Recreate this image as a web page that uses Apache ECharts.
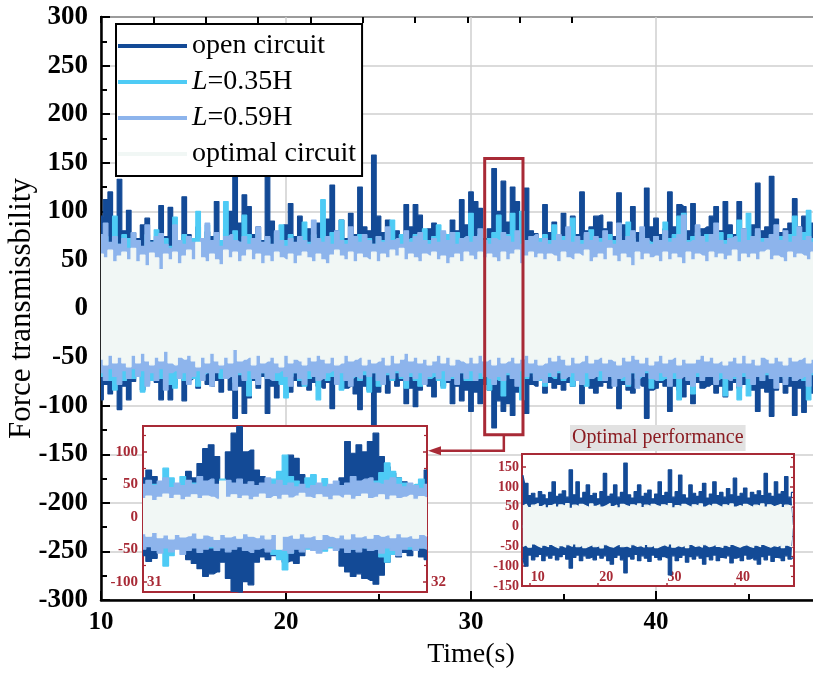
<!DOCTYPE html>
<html>
<head>
<meta charset="utf-8">
<script src="https://cdn.jsdelivr.net/npm/echarts/dist/echarts.min.js"></script>
<style>
  html, body { margin: 0; padding: 0; background: #fff; }
  #chart { width: 813px; height: 675px; }
</style>
</head>
<body>
<div id="chart"></div>
<script>
// ---- main record: envelope peaks sampled every 0.25 s from t = 10 s ----
const MAIN_T0 = 10;
const MAIN_DT = 0.25;

const OPEN_UP = [
  95,112,120,88, 133,80,101,78, 72,86,93,70, 68,106,74,104, 80,66,115,76,
  70,84,68,79, 74,110,66,82, 100,139,88,117, 105,76,84,70, 136,90,72,80,
  86,108,74,95, 70,82,78,88, 85,92,127,80, 91,72,98,76, 125,84,80,158,
  95,78,91,74, 80,70,107,84, 107,96,76,82, 88,70,78,74, 91,80,112,86,
  120,110,103,72, 82,144,100,131, 89,125,110,84, 124,80,77,70, 107,78,89,76,
  98,80,95,76, 120,80,84,95, 96,82,89,74, 119,86,78,105, 78,80,124,84,
  93,76,82,120, 84,107,105,80, 108,76,82,84, 95,105,80,110, 86,76,110,82,
  78,86,129,80, 84,136,92,78, 82,88,113,84, 95,78,88,82
];
const OPEN_LO = [
  -94,-78,-88,-72, -104,-80,-94,-75, -70,-84,-78,-72, -76,-94,-70,-94, -78,-70,-95,-74,
  -72,-82,-70,-78, -80,-74,-86,-70, -84,-113,-80,-108, -92,-74,-82,-70, -108,-80,-92,-74,
  -78,-86,-74,-80, -72,-84,-76,-80, -82,-76,-103,-78, -74,-82,-80,-88, -104,-80,-84,-122,
  -86,-78,-87,-72, -80,-74,-98,-82, -101,-84,-76,-80, -91,-74,-80,-76, -98,-80,-95,-84,
  -106,-86,-98,-78, -84,-123,-95,-106, -98,-110,-86,-80, -108,-78,-80,-72, -87,-76,-82,-78,
  -84,-76,-80,-74, -98,-78,-82,-87, -80,-76,-82,-74, -103,-78,-84,-87, -78,-80,-113,-84,
  -82,-76,-80,-106, -80,-84,-91,-78, -98,-76,-82,-80, -78,-87,-80,-91, -84,-76,-82,-78,
  -80,-84,-106,-82, -86,-111,-84,-76, -87,-80,-110,-82, -107,-80,-87,-78
];
const L035_UP = [
  68,74,64,95, 66,76,72,64, 70,62,76,68, 81,66,72,64, 94,68,76,66,
  72,100,64,86, 68,76,70,110, 74,80,68,96, 76,70,78,66, 72,64,78,86,
  70,76,66,72, 89,68,76,70, 112,72,78,66, 91,70,74,68, 76,68,72,66,
  74,70,78,91, 68,76,70,72, 76,66,82,70, 74,86,68,76, 70,78,72,74,
  98,70,76,68, 72,78,96,70, 76,98,72,100, 70,68,64,72, 76,70,86,68,
  74,68,93,66, 70,76,81,68, 72,66,76,70, 74,68,89,72, 66,76,70,68,
  74,70,89,72, 76,95,98,70, 74,78,68,76, 72,68,78,70, 76,72,91,74,
  98,70,78,72, 68,76,70,74, 72,76,95,70, 78,101,72,76
];
const L035_LO = [
  -70,-64,-74,-84, -66,-74,-62,-72, -68,-86,-66,-74, -64,-72,-70,-78, -82,-66,-74,-64,
  -72,-80,-68,-66, -74,-64,-72,-70, -66,-76,-68,-72, -90,-70,-74,-66, -72,-64,-74,-78,
  -92,-70,-66,-74, -80,-72,-68,-94, -66,-74,-70,-72, -84,-66,-72,-70, -74,-68,-86,-66,
  -80,-72,-68,-74, -66,-72,-82,-70, -74,-80,-66,-72, -70,-74,-82,-66, -72,-70,-66,-74,
  -74,-68,-72,-66, -84,-72,-74,-90, -68,-72,-66,-94, -72,-66,-70,-74, -80,-70,-72,-66,
  -74,-66,-80,-70, -72,-80,-68,-66, -74,-70,-66,-72, -70,-74,-80,-66, -72,-70,-66,-82,
  -70,-74,-72,-66, -72,-94,-68,-74, -88,-70,-72,-66, -68,-74,-72,-90, -66,-72,-94,-70,
  -90,-72,-66,-74, -68,-72,-74,-66, -72,-68,-74,-66, -74,-94,-68,-72
];
const L059_UP = [
  76,88,68,74, 66,72,62,78, 70,64,86,68, 74,77,66,62, 86,70,66,74,
  68,64,72,88, 70,78,64,74, 76,70,68,74, 66,72,84,68, 74,66,80,70,
  64,72,68,74, 70,66,91,72, 68,74,66,80, 70,66,84,74, 68,76,70,66,
  74,68,84,70, 72,66,80,68, 74,78,70,66, 72,68,80,70, 78,66,72,74,
  68,74,82,70, 66,72,70,78, 74,68,80,66, 70,74,76,68, 72,66,70,76,
  70,84,68,74, 66,78,70,74, 68,80,70,66, 88,70,74,80, 68,84,72,66,
  74,70,80,68, 72,76,96,68, 70,86,74,68, 76,88,70,66, 72,74,68,82,
  70,74,82,68, 72,76,86,70, 80,68,74,84, 70,74,68,72
];
const L059_LO = [
  -66,-74,-62,-70, -78,-64,-72,-62, -70,-64,-80,-66, -74,-62,-84,-66, -64,-72,-66,-78,
  -70,-64,-74,-66, -80,-66,-62,-72, -70,-84,-66,-74, -64,-72,-78,-66, -72,-74,-66,-64,
  -70,-80,-66,-72, -78,-64,-70,-74, -72,-66,-64,-78, -66,-74,-80,-70, -72,-64,-70,-66,
  -74,-78,-66,-72, -64,-70,-74,-66, -72,-66,-78,-70, -66,-72,-64,-74, -70,-78,-66,-72,
  -64,-74,-66,-70, -72,-78,-70,-74, -66,-72,-80,-64, -70,-66,-74,-72, -76,-66,-70,-64,
  -72,-70,-66,-74, -78,-66,-72,-70, -64,-74,-70,-80, -72,-70,-78,-66, -82,-70,-64,-72,
  -74,-66,-70,-80, -66,-72,-70,-74, -80,-66,-74,-70, -70,-78,-66,-72, -74,-70,-80,-66,
  -72,-78,-70,-74, -66,-72,-82,-70, -78,-70,-74,-72, -70,-80,-66,-74
];
const OPT_UP = [
  56,52,60,48, 54,58,50,62, 48,55,44,57, 52,40,56,50, 58,46,54,60,
  50,68,52,48, 56,50,45,60, 52,58,48,54, 60,50,56,46, 54,48,58,52,
  50,56,46,54, 58,52,48,56, 50,46,55,60, 54,50,58,48, 56,52,50,58,
  48,56,52,60, 54,62,50,56, 52,48,56,54, 58,50,54,46, 52,56,48,58,
  54,50,58,52, 56,52,48,58, 50,56,60,46, 54,58,52,56, 50,56,54,48,
  58,52,50,56, 54,60,48,52, 56,50,62,54, 48,56,52,44, 58,50,56,52,
  54,48,58,50, 56,52,46,58, 50,56,54,48, 58,52,56,50, 54,60,48,56,
  52,56,50,58, 60,50,54,52, 48,58,52,56, 54,50,58,52
];
const OPT_LO = [
  -52,-58,-48,-56, -50,-56,-60,-48, -56,-46,-54,-58, -50,-54,-44,-56, -58,-50,-52,-48,
  -54,-60,-50,-56, -46,-54,-58,-50, -56,-42,-54,-52, -50,-58,-48,-56, -54,-50,-56,-60,
  -48,-56,-52,-54, -58,-50,-54,-48, -52,-56,-50,-58, -56,-48,-54,-52, -50,-58,-52,-56,
  -54,-50,-58,-48, -56,-52,-46,-54, -50,-56,-52,-58, -54,-48,-56,-50, -58,-52,-54,-56,
  -50,-56,-48,-54, -52,-58,-50,-56, -54,-50,-56,-52, -48,-56,-52,-58, -56,-50,-54,-48,
  -52,-58,-50,-56, -54,-48,-56,-52, -50,-56,-52,-54, -58,-50,-54,-48, -52,-56,-50,-58,
  -54,-48,-56,-52, -50,-58,-52,-56, -56,-52,-48,-54, -50,-56,-54,-58, -54,-50,-56,-48,
  -56,-52,-58,-50, -52,-56,-50,-54, -58,-50,-54,-52, -50,-56,-52,-58
];

// ---- 31-32 s detail, sampled every 0.02 s ----
const ZOOM_T0 = 31;
const ZOOM_DT = 0.02;
const ZOOM_OPEN_UP = [60,72,62,40,38,42,36,44,70,60, 82,105,111,93,50,100,129,139,100,103,
  72,62,58,40,52,70,95,90,65,41, 36,30,28,34,36,60,116,98,111,100, 116,129,93,77,67,60,54,47,45,39, 72];
const ZOOM_OPEN_LO = [-60,-69,-64,-48,-42,-45,-40,-44,-66,-72, -80,-92,-88,-85,-70,-95,-115,-117,-100,-105,
  -70,-62,-66,-60,-64,-70,-68,-72,-60,-45, -38,-42,-35,-40,-38,-76,-85,-92,-88,-95, -98,-104,-90,-70,-58,-62,-55,-60,-48,-62, -66];
const ZOOM_L035_UP = [40,45,50,42,75,60,44,62,48,52, 45,50,48,44,58,52,46,50,44,48,
  42,46,40,58,70,95,62,55,48,60, 65,44,59,46,42,44,50,48,52,46, 50,55,68,83,70,60,52,48,50,58, 46];
const ZOOM_L035_LO = [-40,-44,-48,-42,-76,-60,-45,-50,-42,-46, -40,-44,-48,-42,-46,-50,-44,-40,-46,-42,
  -48,-44,-50,-58,-66,-82,-56,-48,-44,-50, -46,-42,-53,-48,-44,-46,-42,-50,-46,-48, -44,-50,-62,-70,-58,-52,-46,-50,-44,-48, -46];
const ZOOM_L059_UP = [50,56,48,55,60,45,52,48,56,50, 62,55,58,50,48,56,52,58,50,54,
  48,52,60,50,56,48,52,46,50,44, 48,52,46,50,55,48,52,62,55,58, 60,52,50,56,60,50,46,52,48,44, 50];
const ZOOM_L059_LO = [-50,-46,-52,-56,-48,-54,-50,-58,-52,-48, -55,-50,-46,-52,-48,-54,-50,-46,-52,-55,
  -50,-48,-54,-50,-46,-52,-56,-50,-54,-48, -52,-56,-50,-46,-52,-48,-55,-50,-54,-48, -52,-50,-56,-48,-52,-60,-50,-46,-52,-48, -50];
const ZOOM_OPT_UP = [28,32,25,30,35,28,33,26,30,34, 28,32,30,27,55,30,34,28,32,26,
  30,35,28,31,27,33,29,32,36,30, 28,34,30,26,32,29,33,27,31,35, 28,30,34,26,32,28,30,33,27,31, 29];
const ZOOM_OPT_LO = [-26,-30,-24,-32,-28,-34,-27,-31,-29,-25, -33,-28,-30,-35,-27,-31,-29,-33,-26,-30,
  -32,-28,-34,-27,-50,-30,-28,-33,-26,-31, -29,-35,-27,-30,-32,-28,-34,-26,-31,-29, -33,-27,-30,-28,-32,-26,-31,-29,-33,-27, -30];

// ---- optimal performance record, sampled every 0.5 s from t = 9 s ----
const PERF_T0 = 9;
const PERF_DT = 0.5;
const PERF_UP = [130,109,78,84,72,88,80,70,86,113, 76,82,90,74,143,80,113,72,86,105,
  78,84,70,88,134,76,82,105,74,86, 160,80,72,88,105,76,84,92,70,82,
  113,78,86,143,74,88,130,80,72,105, 84,76,88,109,72,82,113,78,86,74,
  96,80,122,76,84,97,72,86,80,90, 78,134,84,76,113,82,88,126,74,86];
const PERF_LO = [-80,-100,-72,-84,-76,-70,-86,-74,-80,-72, -84,-76,-70,-82,-105,-78,-72,-86,-74,-80,
  -76,-84,-72,-80,-74,-86,-95,-78,-72,-84, -117,-76,-82,-70,-86,-74,-80,-88,-72,-78,
  -84,-76,-80,-122,-74,-86,-78,-72,-90,-76, -82,-74,-80,-95,-76,-84,-72,-86,-78,-80,
  -74,-92,-80,-76,-86,-72,-82,-78,-84,-95, -76,-84,-72,-88,-78,-80,-86,-74,-82,-78];
const PERF_CORE_UP = [52,56,48,54,58,50,55,47,53,57, 49,55,51,58,46,54,50,56,52,48,
  57,51,55,49,53,58,50,54,47,56, 52,49,55,51,57,48,54,50,56,52,
  49,55,51,58,47,53,50,56,52,48, 55,51,57,49,54,50,56,52,48,55,
  51,57,49,53,50,56,52,48,54,51, 57,49,55,50,53,56,48,54,51,55];
const PERF_CORE_LO = [-50,-46,-52,-44,-49,-53,-47,-51,-45,-50, -54,-48,-52,-46,-50,-44,-51,-47,-53,-49,
  -45,-51,-48,-54,-46,-50,-52,-47,-44,-51, -49,-53,-46,-50,-48,-52,-45,-51,-47,-53,
  -49,-46,-50,-44,-52,-48,-51,-47,-53,-45, -50,-48,-52,-46,-51,-49,-44,-50,-53,-47,
  -51,-45,-49,-52,-48,-46,-50,-53,-47,-51, -45,-49,-52,-48,-50,-46,-53,-47,-51,-49];

// window of the main record that the detail panel enlarges
const WINDOW_T = [30.74, 32.81];
const WINDOW_V = [-130, 154.5];

const NAMES = ['open circuit', 'L=0.35H', 'L=0.59H', 'optimal circuit'];

// ---- styling ----
const SERIF = '"Liberation Serif", "Times New Roman", serif';
const C_OPEN = '#134a96';
const C_L035 = '#4ecbf5';
const C_L059 = '#8db4ec';
const C_OPT = '#f1f7f5';
const RED = '#a82a36';

function pairs(t0, dt, vals) {
  return vals.map((v, i) => [Math.round((t0 + dt * i) * 1000) / 1000, v]);
}

// each trace gets its own z so its area and its outline stay together in the stacking order;
// upper and lower envelopes fill a little past zero so the two halves overlap without a seam
function trace(name, color, t0, dt, vals, xi, yi, z, extra) {
  const upper = vals[0] > 0;
  return Object.assign({
    type: 'line', name: name, step: 'middle', symbol: 'none', showSymbol: false,
    xAxisIndex: xi, yAxisIndex: yi, z: z,
    data: pairs(t0, dt, vals),
    itemStyle: { color: color },
    lineStyle: { color: color, width: 1.2 },
    areaStyle: { color: color, opacity: 1, origin: upper ? -4 : 4 },
    silent: true, animation: false
  }, extra || {});
}

const redLabel = (size) => ({ fontFamily: SERIF, fontWeight: 'bold', fontSize: size, color: RED });
const L1 = { zlevel: 1 };

const series = [
  trace(NAMES[0], C_OPEN, MAIN_T0, MAIN_DT, OPEN_UP, 0, 0, 2),
  trace(NAMES[0], C_OPEN, MAIN_T0, MAIN_DT, OPEN_LO, 0, 0, 2),
  trace(NAMES[1], C_L035, MAIN_T0, MAIN_DT, L035_UP, 0, 0, 3),
  trace(NAMES[1], C_L035, MAIN_T0, MAIN_DT, L035_LO, 0, 0, 3),
  trace(NAMES[2], C_L059, MAIN_T0, MAIN_DT, L059_UP, 0, 0, 4),
  trace(NAMES[2], C_L059, MAIN_T0, MAIN_DT, L059_LO, 0, 0, 4),
  trace(NAMES[3], C_OPT, MAIN_T0, MAIN_DT, OPT_UP, 0, 0, 5),
  trace(NAMES[3], C_OPT, MAIN_T0, MAIN_DT, OPT_LO, 0, 0, 5),

  trace('detail open', C_OPEN, ZOOM_T0, ZOOM_DT, ZOOM_OPEN_UP, 2, 2, 2, L1),
  trace('detail open', C_OPEN, ZOOM_T0, ZOOM_DT, ZOOM_OPEN_LO, 2, 2, 2, L1),
  trace('detail 0.35', C_L035, ZOOM_T0, ZOOM_DT, ZOOM_L035_UP, 2, 2, 3, L1),
  trace('detail 0.35', C_L035, ZOOM_T0, ZOOM_DT, ZOOM_L035_LO, 2, 2, 3, L1),
  trace('detail 0.59', C_L059, ZOOM_T0, ZOOM_DT, ZOOM_L059_UP, 2, 2, 4, L1),
  trace('detail 0.59', C_L059, ZOOM_T0, ZOOM_DT, ZOOM_L059_LO, 2, 2, 4, L1),
  trace('detail optimal', C_OPT, ZOOM_T0, ZOOM_DT, ZOOM_OPT_UP, 2, 2, 5, L1),
  trace('detail optimal', C_OPT, ZOOM_T0, ZOOM_DT, ZOOM_OPT_LO, 2, 2, 5, L1),

  trace('performance', C_OPEN, PERF_T0, PERF_DT, PERF_UP, 3, 4, 2, L1),
  trace('performance', C_OPEN, PERF_T0, PERF_DT, PERF_LO, 3, 4, 2, L1),
  trace('performance core', C_OPT, PERF_T0, PERF_DT, PERF_CORE_UP, 3, 4, 3, L1),
  trace('performance core', C_OPT, PERF_T0, PERF_DT, PERF_CORE_LO, 3, 4, 3, L1)
];

const insetGrid = (box) => Object.assign({
  show: true, backgroundColor: '#fff', borderColor: RED, borderWidth: 2,
  zlevel: 1, outerBoundsMode: 'none', containLabel: false
}, box);

const option = {
  animation: false,
  backgroundColor: '#fff',
  title: {
    text: 'Optimal performance', left: 570, top: 425,
    padding: [3, 2, 3, 2], backgroundColor: '#e2e2e2',
    textStyle: { fontFamily: SERIF, fontSize: 20, fontWeight: 'normal', color: '#8b1c22' },
    z: 20
  },
  legend: {
    data: NAMES, orient: 'vertical', left: 116, top: 24,
    backgroundColor: '#fff', borderColor: '#000', borderWidth: 2,
    padding: [8, 6, 8, 2], itemGap: 8, itemWidth: 69, itemHeight: 4, icon: 'rect',
    selectedMode: false, z: 10,
    formatter: (n) => n.indexOf('L=') === 0 ? '{i|L}{r|' + n.slice(1) + '}' : n,
    textStyle: {
      fontFamily: SERIF, fontSize: 28, lineHeight: 28, color: '#000',
      rich: {
        i: { fontFamily: SERIF, fontSize: 28, lineHeight: 28, fontStyle: 'italic', color: '#000' },
        r: { fontFamily: SERIF, fontSize: 28, lineHeight: 28, color: '#000' }
      }
    }
  },
  grid: [
    { left: 101, top: 17, width: 740, height: 583, show: true, borderColor: '#000', borderWidth: 2,
      backgroundColor: 'transparent', outerBoundsMode: 'none', containLabel: false },
    insetGrid({ left: 143, top: 426, width: 284, height: 166 }),
    insetGrid({ left: 522, top: 454, width: 272, height: 132 }),
    { left: 101, top: 17, width: 471, height: 1, show: false, outerBoundsMode: 'none', containLabel: false }
  ],
  xAxis: [
    { gridIndex: 0, type: 'value', min: 10, max: 50, interval: 10,
      axisLine: { show: true, onZero: false, lineStyle: { color: '#000', width: 2.5 } },
      axisTick: { show: true, inside: true, length: 9, lineStyle: { color: '#000', width: 2 } },
      minorTick: { show: true, splitNumber: 2, length: 6, lineStyle: { color: '#000', width: 2 } },
      splitLine: { show: true, lineStyle: { color: '#cfcfcf', width: 1.5 } },
      axisLabel: { fontFamily: SERIF, fontWeight: 'bold', fontSize: 25, color: '#000', margin: 10 },
      name: 'Time(s)', nameLocation: 'middle', nameGap: 41, nameMoveOverlap: false,
      nameTextStyle: { fontFamily: SERIF, fontSize: 28, color: '#000' } },
    { gridIndex: 3, type: 'value', position: 'top', min: 0, max: 9, interval: 1,
      axisLine: { show: false, onZero: false },
      axisTick: { show: true, inside: true, length: 6, lineStyle: { color: '#000', width: 2 } },
      axisLabel: { show: false }, splitLine: { show: false } },
    { gridIndex: 1, type: 'value', min: 31, max: 32, interval: 1, zlevel: 1,
      axisLine: { show: false, onZero: false }, axisTick: { show: false }, splitLine: { show: false },
      axisLabel: Object.assign({ inside: true, align: 'left', margin: 2, padding: [0, 0, 0, 4] }, redLabel(15)) },
    { gridIndex: 2, type: 'value', min: 8.87, max: 48.63, splitNumber: 4, zlevel: 1,
      axisLine: { show: false, onZero: false },
      axisTick: { show: true, inside: true, length: 3, lineStyle: { color: RED, width: 1.5 } },
      splitLine: { show: false },
      axisLabel: Object.assign({ inside: true, align: 'left', margin: 2, padding: [0, 0, 0, 1],
        formatter: (v) => (Math.abs(v % 10) < 1e-6 ? String(v) : '') }, redLabel(14)) }
  ],
  yAxis: [
    { gridIndex: 0, type: 'value', min: -300, max: 300, interval: 50,
      axisLine: { show: true, onZero: false, lineStyle: { color: '#000', width: 2.5 } },
      axisTick: { show: true, inside: true, length: 9, lineStyle: { color: '#000', width: 2 } },
      minorTick: { show: true, splitNumber: 2, length: 6, lineStyle: { color: '#000', width: 2 } },
      splitLine: { show: true, lineStyle: { color: '#cfcfcf', width: 1.5 } },
      axisLabel: { fontFamily: SERIF, fontWeight: 'bold', fontSize: 27, color: '#000', margin: 13 },
      name: 'Force transmissbility', nameLocation: 'middle', nameGap: 64, nameMoveOverlap: false,
      nameTextStyle: { fontFamily: SERIF, fontSize: 31, color: '#000' } },
    { gridIndex: 3, type: 'value', show: false },
    { gridIndex: 1, type: 'value', min: -116, max: 140, splitNumber: 5, zlevel: 1,
      axisLine: { show: false, onZero: false },
      axisTick: { show: true, inside: true, length: 4, lineStyle: { color: RED, width: 1.5 } },
      minorTick: { show: true, splitNumber: 2, length: 3, lineStyle: { color: RED, width: 1.2 } },
      splitLine: { show: false },
      axisLabel: Object.assign({ margin: 5, formatter: (v) => (Math.abs(v % 50) < 1e-6 ? String(v) : '') }, redLabel(15)) },
    { gridIndex: 1, type: 'value', position: 'right', min: -116, max: 140, splitNumber: 5, zlevel: 1,
      axisLine: { show: false, onZero: false },
      axisTick: { show: true, inside: true, length: 4, lineStyle: { color: RED, width: 1.5 } },
      minorTick: { show: true, splitNumber: 2, length: 3, lineStyle: { color: RED, width: 1.2 } },
      splitLine: { show: false }, axisLabel: { show: false } },
    { gridIndex: 2, type: 'value', min: -150, max: 183, splitNumber: 6, zlevel: 1,
      axisLine: { show: false, onZero: false },
      axisTick: { show: true, inside: true, length: 4, lineStyle: { color: RED, width: 1.5 } },
      splitLine: { show: false },
      axisLabel: Object.assign({ margin: 3, formatter: (v) => (Math.abs(v % 50) < 1e-6 ? String(v) : '') }, redLabel(14)) },
    { gridIndex: 2, type: 'value', position: 'right', min: -150, max: 183, splitNumber: 6, zlevel: 1,
      axisLine: { show: false, onZero: false },
      axisTick: { show: true, inside: true, length: 4, lineStyle: { color: RED, width: 1.5 } },
      minorTick: { show: true, splitNumber: 2, length: 3, lineStyle: { color: RED, width: 1.2 } },
      splitLine: { show: false }, axisLabel: { show: false } }
  ],
  series: series
};

const chart = echarts.init(document.getElementById('chart'), null, { renderer: 'canvas' });
chart.setOption(option);

// frame around the enlarged window and the arrow leading to the detail panel
const tl = chart.convertToPixel({ xAxisIndex: 0, yAxisIndex: 0 }, [WINDOW_T[0], WINDOW_V[1]]);
const br = chart.convertToPixel({ xAxisIndex: 0, yAxisIndex: 0 }, [WINDOW_T[1], WINDOW_V[0]]);
const panelRight = chart.convertToPixel({ xAxisIndex: 2 }, ZOOM_T0 + 1);
const midX = (tl[0] + br[0]) / 2;
const arrowY = br[1] + 16;

chart.setOption({
  graphic: [
    { type: 'rect', z: 50, silent: true,
      shape: { x: tl[0], y: tl[1], width: br[0] - tl[0], height: br[1] - tl[1] },
      style: { fill: 'none', stroke: RED, lineWidth: 3 } },
    { type: 'polyline', z: 50, silent: true,
      shape: { points: [[midX, br[1]], [midX, arrowY], [panelRight + 12, arrowY]] },
      style: { fill: 'none', stroke: RED, lineWidth: 2.5 } },
    { type: 'polygon', z: 50, silent: true,
      shape: { points: [[panelRight + 1, arrowY], [panelRight + 14, arrowY - 4.5], [panelRight + 14, arrowY + 4.5]] },
      style: { fill: RED } }
  ]
});
</script>
</body>
</html>
